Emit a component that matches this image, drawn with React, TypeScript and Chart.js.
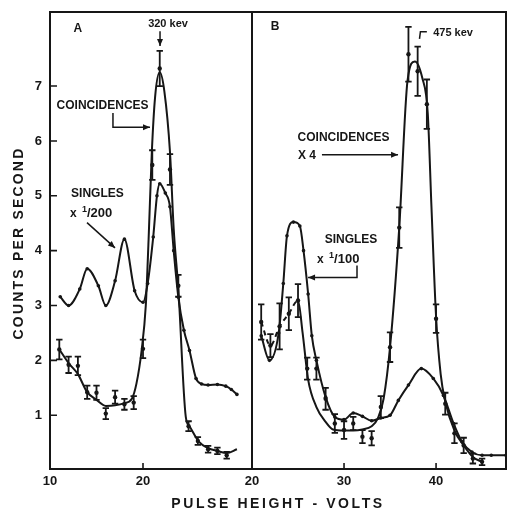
import React, { useEffect, useRef } from "react";
import { Chart, registerables } from "chart.js";

Chart.register(...registerables);

const FONT = '"Liberation Sans", Arial, sans-serif';
const INK = "#161616";

// ---- shared axes ----
const yTicks = [1, 2, 3, 4, 5, 6, 7];
const aTicksX = [10, 20];
const bTicksX = [20, 30, 40];

// ---- Panel A : coincidences (measured points with error bars) ----
const aCoincX = [11, 12, 13, 14, 15, 16, 17, 18, 19, 20, 21, 21.8, 22.9, 23.8, 24.9, 25.9, 27, 28, 29];
const aCoincY = [2.2, 1.92, 1.9, 1.42, 1.41, 1.03, 1.33, 1.2, 1.23, 2.21, 5.56, 7.32, 5.48, 3.36, 0.8, 0.53, 0.38, 0.35, 0.27];
const aCoincErr = [0.18, 0.15, 0.17, 0.12, 0.13, 0.1, 0.12, 0.1, 0.12, 0.17, 0.27, 0.32, 0.28, 0.2, 0.09, 0.07, 0.06, 0.06, 0.06];
// Panel A : coincidence curve as drawn
const aCoincCurveX = [11, 12, 13, 14, 15, 16, 17, 18, 18.8, 19.3, 19.85, 20.3, 20.6, 20.95, 21.3, 21.8, 22.3, 22.9, 23.3, 23.8, 24.6, 25, 26, 27, 28, 29, 30.1];
const aCoincCurveY = [2.2, 1.95, 1.75, 1.42, 1.28, 1.17, 1.18, 1.22, 1.3, 1.58, 2.18, 3.0, 4.2, 5.8, 6.8, 7.25, 6.9, 5.8, 4.4, 3.3, 0.97, 0.8, 0.52, 0.4, 0.35, 0.31, 0.38];
// Panel A : singles x 1/200
const aSingX = [11.1, 12, 13.2, 14, 15.2, 16, 17, 18, 19.1, 20, 20.5, 21.1, 21.5, 21.8, 22.4, 22.9, 23.3, 23.8, 24.4, 25, 25.7, 26.3, 27, 28, 28.9, 29.5, 30.1];
const aSingY = [3.16, 3.0, 3.3, 3.67, 3.36, 3.0, 3.45, 4.21, 3.27, 3.06, 3.4, 4.25, 5.0, 5.22, 5.05, 4.8, 4.0, 3.15, 2.55, 2.18, 1.67, 1.57, 1.55, 1.56, 1.53, 1.47, 1.38];

// ---- Panel B : coincidences x 4 ----
const bCoincX = [21, 22, 23, 24, 25, 26, 27, 28, 29, 30, 31, 32, 33, 34, 35, 36, 37, 38, 39, 40, 41, 42, 43, 44, 45];
const bCoincY = [2.7, 2.27, 2.62, 2.85, 3.09, 1.85, 1.85, 1.3, 0.85, 0.73, 0.85, 0.61, 0.58, 1.15, 2.24, 4.42, 7.58, 7.27, 6.67, 2.76, 1.21, 0.67, 0.45, 0.21, 0.15];
const bCoincErr = [0.32, 0.21, 0.42, 0.3, 0.3, 0.2, 0.2, 0.2, 0.17, 0.16, 0.12, 0.12, 0.13, 0.2, 0.27, 0.37, 0.5, 0.45, 0.45, 0.26, 0.2, 0.18, 0.14, 0.09, 0.06];
const bCoincCurveX = [21, 22, 23, 24, 25, 25.5, 26.1, 27, 28, 28.8, 30, 31, 32, 33, 33.7, 34.3, 35, 36, 36.9, 37.7, 38.5, 39.1, 39.5, 40, 40.5, 41, 42, 43, 44, 45];
const bCoincCurveY = [2.7, 2.27, 2.62, 2.85, 3.09, 2.5, 1.65, 1.15, 0.88, 0.74, 0.72, 0.72, 0.74, 0.8, 0.95, 1.3, 2.24, 4.42, 7.1, 7.45, 7.15, 6.5, 4.8, 2.8, 1.75, 1.25, 0.72, 0.45, 0.24, 0.15];
// Panel B : singles x 1/100
const bSingX = [21, 21.9, 22.9, 23.4, 23.8, 24.5, 25.2, 25.6, 26.1, 26.5, 27, 28, 29, 30, 31, 32, 33, 34, 35, 35.9, 37, 38.4, 39.7, 40.8, 41.9, 42.8, 43.9, 45, 46, 47.6];
const bSingY = [2.45, 2.0, 2.5, 3.4, 4.27, 4.52, 4.45, 4.0, 3.21, 2.45, 2.0, 1.33, 0.97, 0.92, 1.04, 0.98, 0.9, 0.95, 1.0, 1.27, 1.55, 1.85, 1.67, 1.36, 0.85, 0.52, 0.33, 0.27, 0.27, 0.27];

const pts = (xs: number[], ys: number[]) => xs.map((x, i) => ({ x, y: ys[i] }));

type Ann =
  | { kind: "text"; t: string; x: number; y: number; size?: number; align?: CanvasTextAlign }
  | { kind: "frac"; x: number; y: number; den: string }
  | { kind: "arrow"; p: number[][]; head?: boolean };

const annA: Ann[] = [
  { kind: "text", t: "A", x: 13.0, y: 8.05, size: 12 },
  { kind: "text", t: "320 kev", x: 22.69, y: 8.13, size: 11 },
  { kind: "arrow", p: [[21.83, 8.0], [21.83, 7.73]] },
  { kind: "text", t: "COINCIDENCES", x: 15.65, y: 6.64 },
  { kind: "arrow", p: [[16.77, 6.51], [16.77, 6.25], [20.75, 6.25]] },
  { kind: "text", t: "SINGLES", x: 15.1, y: 5.04 },
  { kind: "frac", x: 12.15, y: 4.67, den: "200" },
  { kind: "arrow", p: [[13.98, 4.51], [16.99, 4.05]] },
];

const annB: Ann[] = [
  { kind: "text", t: "B", x: 22.5, y: 8.09, size: 12 },
  { kind: "text", t: "475 kev", x: 41.85, y: 7.96, size: 11 },
  { kind: "arrow", p: [[39.0, 7.99], [38.3, 7.99], [38.2, 7.86]], head: false },
  { kind: "text", t: "COINCIDENCES", x: 29.95, y: 6.05 },
  { kind: "text", t: "X 4", x: 25.0, y: 5.73, align: "left" },
  { kind: "arrow", p: [[27.6, 5.75], [35.87, 5.75]] },
  { kind: "text", t: "SINGLES", x: 30.76, y: 4.2 },
  { kind: "frac", x: 27.07, y: 3.84, den: "100" },
  { kind: "arrow", p: [[31.41, 3.73], [31.41, 3.51], [26.09, 3.51]] },
];

const paperPlugin = {
  id: "paper",
  afterDatasetsDraw(chart: any, _a: any, opts: any) {
    const ctx: CanvasRenderingContext2D = chart.ctx;
    const { left, right, top, bottom } = chart.chartArea;
    const xs = chart.scales.x;
    const ys = chart.scales.y;
    const X = (v: number) => xs.getPixelForValue(v);
    const Y = (v: number) => ys.getPixelForValue(v);
    ctx.save();
    ctx.strokeStyle = INK;
    ctx.fillStyle = INK;
    ctx.lineCap = "butt";

    // error bars
    ctx.lineWidth = 1.8;
    chart.data.datasets.forEach((ds: any) => {
      if (!ds.errs) return;
      ds.data.forEach((p: any, j: number) => {
        const px = X(p.x);
        const y1 = Y(p.y + ds.errs[j]);
        const y2 = Y(p.y - ds.errs[j]);
        ctx.beginPath();
        ctx.moveTo(px, y1);
        ctx.lineTo(px, y2);
        ctx.moveTo(px - 3.2, y1);
        ctx.lineTo(px + 3.2, y1);
        ctx.moveTo(px - 3.2, y2);
        ctx.lineTo(px + 3.2, y2);
        ctx.stroke();
      });
    });

    // frame
    ctx.lineWidth = 2;
    ctx.strokeRect(left, top, right - left, bottom - top);

    // inward ticks
    ctx.lineWidth = 1.6;
    ctx.beginPath();
    if (opts.yTicks) {
      for (const v of yTicks) {
        ctx.moveTo(left, Y(v));
        ctx.lineTo(left + 7, Y(v));
      }
    }
    for (const v of opts.xTicks) {
      const px = X(v);
      if (px <= left + 2 || px >= right - 2) continue;
      ctx.moveTo(px, bottom);
      ctx.lineTo(px, bottom - 6);
    }
    ctx.stroke();

    // annotations
    ctx.textBaseline = "middle";
    ctx.lineWidth = 1.5;
    for (const a of opts.ann as Ann[]) {
      if (a.kind === "text") {
        ctx.font = `bold ${a.size ?? 12}px ${FONT}`;
        ctx.textAlign = a.align ?? "center";
        ctx.fillText(a.t, X(a.x), Y(a.y));
      } else if (a.kind === "frac") {
        let px = X(a.x);
        const py = Y(a.y);
        ctx.textAlign = "left";
        ctx.font = `bold 12px ${FONT}`;
        ctx.fillText("x", px, py);
        px += ctx.measureText("x ").width + 2;
        ctx.font = `bold 9px ${FONT}`;
        ctx.fillText("1", px, py - 4);
        px += ctx.measureText("1").width;
        ctx.font = `bold 13px ${FONT}`;
        ctx.fillText("/" + a.den, px, py);
      } else {
        const p = a.p.map(([x, y]) => [X(x), Y(y)]);
        ctx.beginPath();
        ctx.moveTo(p[0][0], p[0][1]);
        for (let i = 1; i < p.length; i++) ctx.lineTo(p[i][0], p[i][1]);
        ctx.stroke();
        if (a.head !== false) {
          const [x2, y2] = p[p.length - 1];
          const [x1, y1] = p[p.length - 2];
          const ang = Math.atan2(y2 - y1, x2 - x1);
          const L = 7, W = 3;
          ctx.beginPath();
          ctx.moveTo(x2, y2);
          ctx.lineTo(x2 - L * Math.cos(ang) + W * Math.sin(ang), y2 - L * Math.sin(ang) - W * Math.cos(ang));
          ctx.lineTo(x2 - L * Math.cos(ang) - W * Math.sin(ang), y2 - L * Math.sin(ang) + W * Math.cos(ang));
          ctx.closePath();
          ctx.fill();
        }
      }
    }

    // axis titles (drawn once, on panel A's full-width canvas)
    if (opts.titles) {
      ctx.font = `bold 14px ${FONT}`;
      ctx.textBaseline = "alphabetic";
      ctx.textAlign = "center";
      (ctx as any).letterSpacing = "2.6px";
      ctx.fillText("PULSE HEIGHT - VOLTS", 278, 508);
      (ctx as any).letterSpacing = "2.2px";
      ctx.save();
      ctx.translate(23, 243);
      ctx.rotate(-Math.PI / 2);
      ctx.fillText("COUNTS PER SECOND", 0, 0);
      ctx.restore();
      (ctx as any).letterSpacing = "0px";
    }
    ctx.restore();
  },
};

function buildConfig(panel: "A" | "B"): any {
  const isA = panel === "A";
  const tickFont = { family: FONT, size: 13, weight: "bold" as const };
  const datasets: any[] = isA
    ? [
        { data: pts(aCoincCurveX, aCoincCurveY), borderWidth: 2, pointRadius: 0 },
        { data: pts(aSingX, aSingY), borderWidth: 2, pointRadius: 1.8 },
        { data: pts(aCoincX, aCoincY), showLine: false, pointRadius: 2.2, errs: aCoincErr },
      ]
    : [
        {
          data: pts(bCoincCurveX, bCoincCurveY),
          borderWidth: 2,
          pointRadius: 0,
          segment: { borderDash: (c: any) => (c.p1.parsed.x <= 25 ? [5, 4] : undefined) },
        },
        { data: pts(bSingX, bSingY), borderWidth: 2, pointRadius: 1.8 },
        { data: pts(bCoincX, bCoincY), showLine: false, pointRadius: 2.2, errs: bCoincErr },
      ];
  datasets.forEach((d) => {
    d.borderColor = INK;
    d.backgroundColor = INK;
    d.pointBackgroundColor = INK;
    d.pointBorderWidth = 0;
    d.cubicInterpolationMode = "monotone";
    d.fill = false;
  });
  const xTicks = isA ? aTicksX : bTicksX;
  const noPad = (s: any) => {
    s.paddingTop = 0;
    s.paddingBottom = 0;
    s.paddingLeft = 0;
    s.paddingRight = 0;
  };
  return {
    type: "line",
    data: { datasets },
    options: {
      responsive: false,
      animation: false,
      devicePixelRatio: 1,
      layout: {
        autoPadding: false,
        padding: isA ? { left: 0, right: 255, top: 12, bottom: 0 } : { left: 12, right: 1, top: 12, bottom: 0 },
      },
      plugins: {
        legend: { display: false },
        tooltip: { enabled: false },
        paper: { ann: isA ? annA : annB, xTicks, yTicks: isA, titles: isA },
      },
      scales: {
        x: {
          type: "linear",
          min: isA ? 10 : 20,
          max: isA ? 31.72 : 47.6,
          afterFit: (s: any) => {
            s.height = 41;
            noPad(s);
          },
          afterBuildTicks: (s: any) => {
            s.ticks = xTicks.map((v) => ({ value: v }));
          },
          grid: { display: false, drawTicks: false },
          border: { display: false },
          ticks: { font: tickFont, color: INK, padding: 5, maxRotation: 0, autoSkip: false },
        },
        y: {
          type: "linear",
          min: 0.02,
          max: 8.35,
          display: isA,
          afterFit: (s: any) => {
            s.width = isA ? 50 : 0;
            noPad(s);
          },
          afterBuildTicks: (s: any) => {
            s.ticks = yTicks.map((v) => ({ value: v }));
          },
          grid: { display: false, drawTicks: false },
          border: { display: false },
          ticks: { font: tickFont, color: INK, padding: 8, autoSkip: false },
        },
      },
    },
    plugins: [paperPlugin],
  };
}

export default function App() {
  const refA = useRef<HTMLCanvasElement>(null);
  const refB = useRef<HTMLCanvasElement>(null);
  useEffect(() => {
    const ca = new Chart(refA.current!, buildConfig("A"));
    const cb = new Chart(refB.current!, buildConfig("B"));
    return () => {
      ca.destroy();
      cb.destroy();
    };
  }, []);
  return (
    <div style={{ position: "absolute", left: 0, top: 0, width: 507, height: 510, background: "#fff" }}>
      <canvas ref={refA} width={507} height={510} style={{ position: "absolute", left: 0, top: 0, display: "block" }} />
      <canvas ref={refB} width={267} height={510} style={{ position: "absolute", left: 240, top: 0, display: "block" }} />
    </div>
  );
}
